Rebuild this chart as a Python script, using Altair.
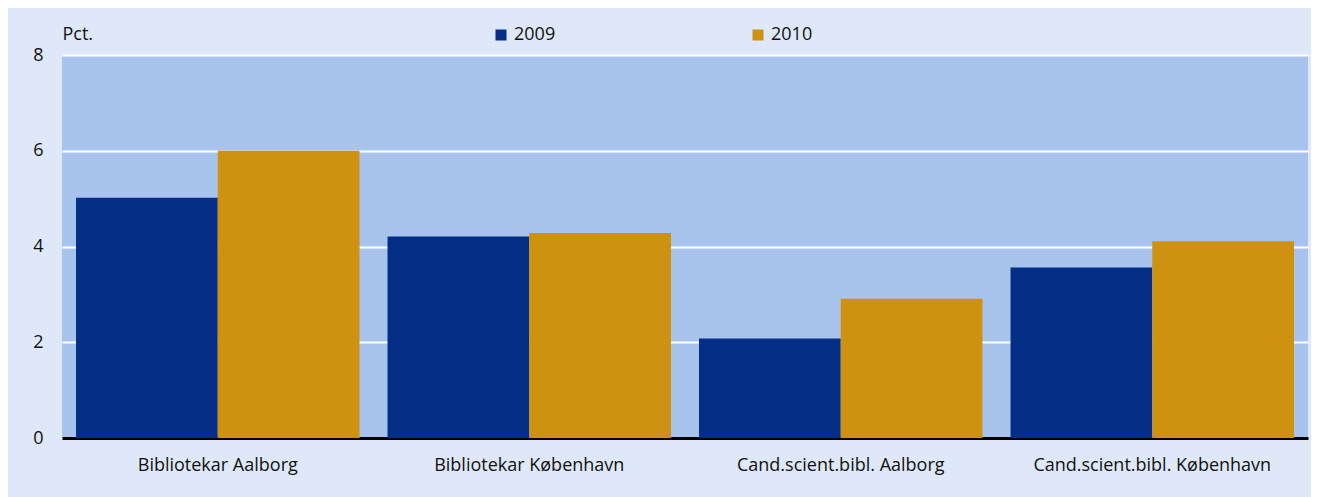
import altair as alt
import pandas as pd

categories = ["Bibliotekar Aalborg", "Bibliotekar København",
              "Cand.scient.bibl. Aalborg", "Cand.scient.bibl. København"]
values_2009 = [5.02, 4.21, 2.08, 3.56]
values_2010 = [6.0, 4.28, 2.91, 4.11]
years = ["2009", "2010"]
colors = ["#052F86", "#CE9110"]
y_ticks = [0, 2, 4, 6, 8]

rows = []
for c, a, b in zip(categories, values_2009, values_2010):
    rows.append({"cat": c, "year": years[0], "value": a})
    rows.append({"cat": c, "year": years[1], "value": b})
df = pd.DataFrame(rows)

FONT = "Open Sans, sans-serif"
TXT = "#111111"

chart = alt.Chart(df).mark_bar().encode(
    x=alt.X("cat:N", sort=categories,
            scale=alt.Scale(paddingInner=0.09, paddingOuter=0.045),
            axis=alt.Axis(title=None, labelAngle=0, ticks=False, labelPadding=18,
                          domainColor="black", domainWidth=3, labelFontSize=18,
                          labelLimit=400, labelColor=TXT, labelFont=FONT, grid=False)),
    xOffset=alt.XOffset("year:N", sort=years,
                        scale=alt.Scale(paddingInner=0, paddingOuter=0)),
    y=alt.Y("value:Q", scale=alt.Scale(domain=[0, 8], nice=False),
            axis=alt.Axis(values=y_ticks, title="Pct.", titleAngle=0, titleX=0, titleY=-21,
                          titleAlign="left", titleBaseline="middle", titleFontSize=18,
                          titleFontWeight="normal", titleFont=FONT, titleColor=TXT,
                          domain=False, ticks=False, labelPadding=19, labelFontSize=18,
                          labelFont=FONT, labelColor=TXT,
                          grid=True, gridColor="white", gridWidth=2)),
    color=alt.Color("year:N", scale=alt.Scale(domain=years, range=colors),
                    legend=alt.Legend(title=None, orient="none", direction="horizontal",
                                      legendX=430, legendY=-29, symbolType="square",
                                      symbolSize=121, symbolStrokeWidth=0,
                                      labelFontSize=18, labelFont=FONT, labelColor=TXT,
                                      labelOffset=4, columnPadding=193)),
).properties(
    width=1246, height=383,
    padding={"left": 54, "top": 47, "right": 3, "bottom": 59},
    autosize=alt.AutoSizeParams(type="none"),
    background="#DFE8F8",
).configure_view(fill="#A9C4EC", strokeWidth=0)

chart.save("out.html", embed_options={"renderer": "svg", "actions": False})
